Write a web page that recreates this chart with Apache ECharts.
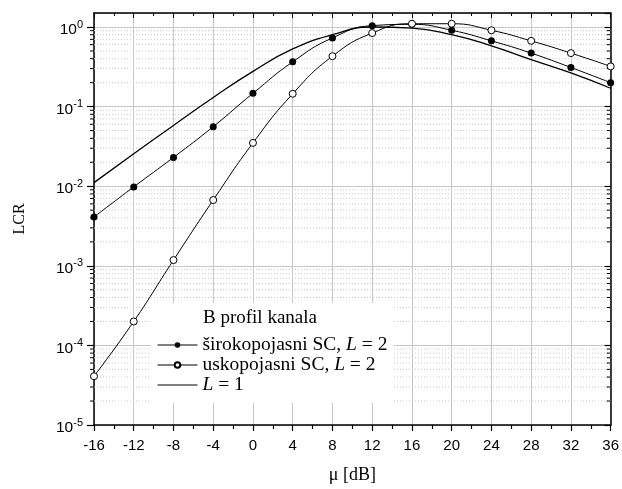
<!DOCTYPE html>
<html>
<head>
<meta charset="utf-8">
<script src="https://cdn.jsdelivr.net/npm/echarts@6/dist/echarts.min.js"></script>
<style>
  html, body { margin: 0; padding: 0; background: #fff; }
  #chart { width: 622px; height: 489px; }
</style>
</head>
<body>
<div id="chart"></div>
<script>
// mu [dB] na x osi
var mu = [-16, -12, -8, -4, 0, 4, 8, 12, 16, 20, 24, 28, 32, 36];
// sirokopojasni SC, L = 2
var wideL2 = [0.0041, 0.0098, 0.023, 0.056, 0.147, 0.365, 0.73, 1.04, 1.08, 0.91, 0.67, 0.47, 0.31, 0.20];
// uskopojasni SC, L = 2
var narrowL2 = [4.1e-5, 2.0e-4, 1.18e-3, 0.0067, 0.035, 0.145, 0.43, 0.84, 1.1, 1.1, 0.91, 0.67, 0.47, 0.32];
// L = 1
var single = [0.0111, 0.0256, 0.058, 0.13, 0.277, 0.53, 0.8, 1.0, 0.97, 0.8, 0.58, 0.39, 0.265, 0.17];

var names = ['širokopojasni SC, L = 2', 'uskopojasni SC, L = 2', 'L = 1'];
var legendTitle = 'B profil kanala';

var xMin = -16, xMax = 36, yMin = 1e-5, yMax = 1.5;

function pairs(ys) {
  var res = [];
  for (var i = 0; i < mu.length; i++) res.push([mu[i], ys[i]]);
  return res;
}

// pomocne vrijednosti za sporedne podjele log osi (2..9 u svakoj dekadi)
var minorVals = [];
for (var e = -5; e <= 0; e++) {
  for (var k = 2; k <= 9; k++) {
    var v = k * Math.pow(10, e);
    if (v < yMax) minorVals.push([xMin, v]);
  }
}

var serif = 'Liberation Serif';
var sans = 'Liberation Sans';

var myChart = echarts.init(document.getElementById('chart'));

var option = {
  animation: false,
  backgroundColor: '#fff',
  title: {
    text: legendTitle,
    left: 203, top: 309, padding: 0, z: 10,
    textStyle: { fontFamily: serif, fontSize: 19, fontWeight: 'normal', color: '#000' }
  },
  legend: {
    orient: 'vertical',
    left: 151, top: 303,
    padding: [32, 6, 8, 6],
    backgroundColor: '#fff',
    itemWidth: 40, itemHeight: 7, itemGap: 0,
    lineStyle: { width: 1 },
    data: [
      { name: names[0] },
      { name: names[1] },
      { name: names[2], icon: 'path://M0,0L40,0L40,1L0,1Z' }
    ],
    formatter: function (n) { return n.replace('L =', '{i|L} ='); },
    textStyle: {
      fontFamily: serif, fontSize: 19.5, color: '#000', lineHeight: 20,
      rich: { i: { fontFamily: serif, fontSize: 19.5, fontStyle: 'italic', color: '#000', lineHeight: 20 } }
    }
  },
  grid: { left: 94, right: 11, top: 13, bottom: 62 },
  xAxis: [{
    type: 'value', min: xMin, max: xMax, interval: 4,
    name: 'μ [dB]', nameLocation: 'middle', nameGap: 41,
    nameTextStyle: { fontFamily: serif, fontSize: 18, color: '#000' },
    axisLine: { show: true, onZero: false, lineStyle: { color: '#000', width: 1.5 } },
    axisTick: { show: true, inside: false, length: 6, lineStyle: { color: '#000', width: 1.2 } },
    minorTick: { show: true, splitNumber: 2, length: 4, lineStyle: { color: '#000', width: 1.2 } },
    axisLabel: { fontFamily: sans, fontSize: 15, color: '#000', margin: 13 },
    splitLine: { show: true, lineStyle: { color: '#c8c8c8', width: 1 } },
    minorSplitLine: { show: false }
  }, {
    type: 'value', min: xMin, max: xMax, interval: 4, position: 'top',
    axisLine: { show: true, onZero: false, lineStyle: { color: '#000', width: 1.5 } },
    axisTick: { show: true, inside: true, length: 5, lineStyle: { color: '#000', width: 1 } },
    minorTick: { show: true, splitNumber: 2, length: 3, lineStyle: { color: '#000', width: 1 } },
    axisLabel: { show: false },
    splitLine: { show: false }
  }],
  yAxis: [{
    type: 'log', logBase: 10, min: yMin, max: yMax,
    name: 'LCR', nameLocation: 'middle', nameGap: 66,
    nameTextStyle: { fontFamily: serif, fontSize: 16, color: '#000' },
    axisLine: { show: true, onZero: false, lineStyle: { color: '#000', width: 1.5 } },
    axisTick: { show: true, inside: false, length: 7, lineStyle: { color: '#000', width: 1.2 } },
    axisLabel: {
      margin: 11, showMaxLabel: false,
      formatter: function (v) {
        var ex = Math.log10(v), r = Math.round(ex);
        if (Math.abs(ex - r) > 1e-6) return '';
        return '{b|10}{s|' + r + '}';
      },
      rich: {
        b: { fontFamily: sans, fontSize: 15.5, color: '#000', lineHeight: 16, padding: [6, 0, 0, 0] },
        s: { fontFamily: sans, fontSize: 11, color: '#000', verticalAlign: 'top', lineHeight: 11 }
      }
    },
    splitLine: { show: true, lineStyle: { color: '#c8c8c8', width: 1 } }
  }, {
    type: 'log', logBase: 10, min: yMin, max: yMax, position: 'right',
    axisLine: { show: true, onZero: false, lineStyle: { color: '#000', width: 1.5 } },
    axisTick: { show: true, inside: true, length: 6, lineStyle: { color: '#000', width: 1.2 } },
    axisLabel: { show: false },
    splitLine: { show: false }
  }],
  series: [{
    // sporedne linije mreze i crtice na lijevoj/desnoj osi
    type: 'custom', silent: true, z: 1,
    xAxisIndex: 0, yAxisIndex: 0,
    data: minorVals,
    renderItem: function (params, api) {
      var p = api.coord([xMin, api.value(1)]);
      var q = api.coord([xMax, api.value(1)]);
      return {
        type: 'group',
        children: [
          { type: 'line', shape: { x1: p[0], y1: p[1], x2: q[0], y2: q[1] },
            style: { stroke: '#c8c8c8', lineWidth: 1, lineDash: [1, 2] } },
          { type: 'line', shape: { x1: p[0] - 4, y1: p[1], x2: p[0], y2: p[1] },
            style: { stroke: '#000', lineWidth: 1 } },
          { type: 'line', shape: { x1: q[0] - 4, y1: q[1], x2: q[0], y2: q[1] },
            style: { stroke: '#000', lineWidth: 1 } }
        ]
      };
    }
  }, {
    name: names[2], type: 'line', smooth: true, symbol: 'none',
    data: pairs(single),
    lineStyle: { color: '#000', width: 1.3 },
    itemStyle: { color: '#000' },
    z: 3
  }, {
    name: names[0], type: 'line', smooth: true, symbol: 'circle', symbolSize: 7,
    data: pairs(wideL2),
    lineStyle: { color: '#000', width: 1 },
    itemStyle: { color: '#000', borderColor: '#000', borderWidth: 0 },
    z: 4
  }, {
    name: names[1], type: 'line', smooth: true, symbol: 'circle', symbolSize: 7,
    data: pairs(narrowL2),
    lineStyle: { color: '#000', width: 1 },
    itemStyle: { color: '#fff', borderColor: '#000', borderWidth: 1 },
    z: 5
  }]
};

myChart.setOption(option);
</script>
</body>
</html>
